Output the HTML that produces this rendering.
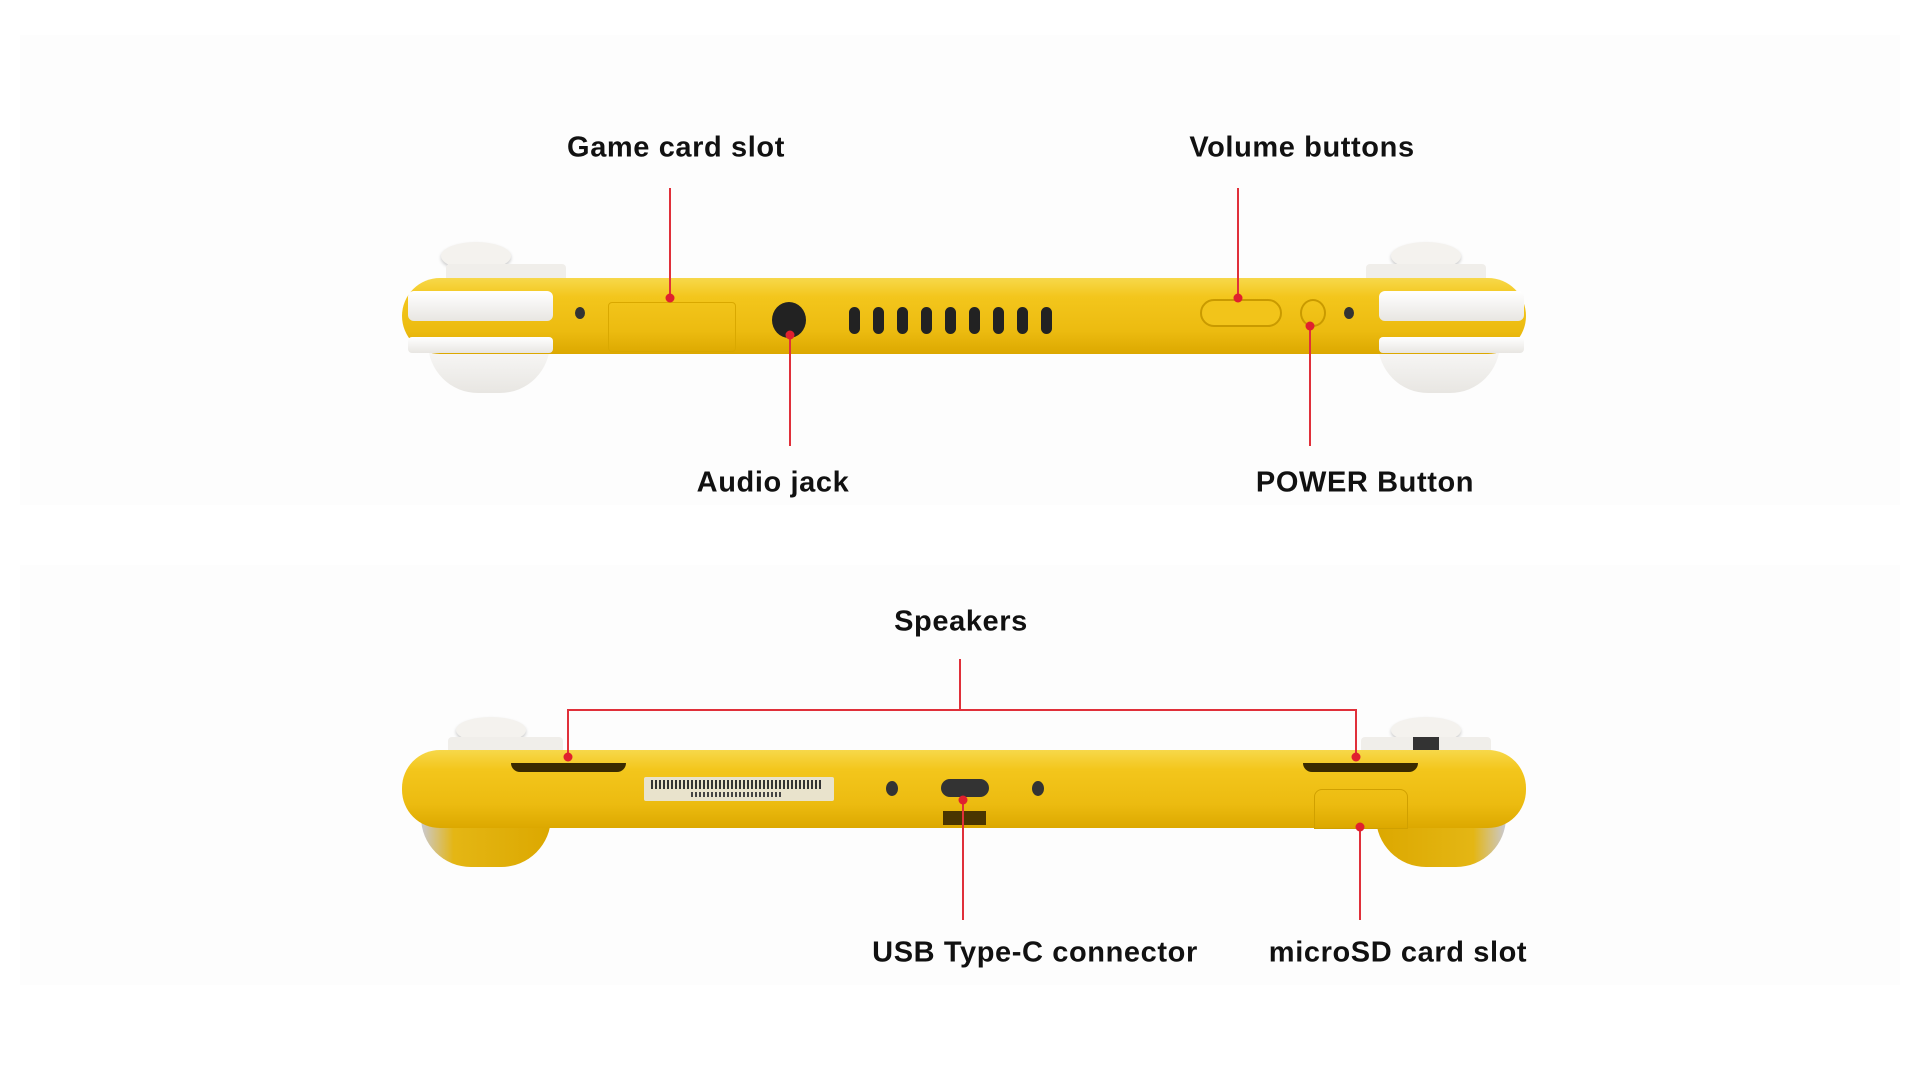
<!DOCTYPE html>
<html><head><meta charset="utf-8"><style>
*{margin:0;padding:0;box-sizing:border-box}
body{width:1920px;height:1080px;background:#fff;position:relative;overflow:hidden;font-family:"Liberation Sans",sans-serif}
#w{position:absolute;left:-4px;top:-1px;width:1920px;height:1080px}
.a{position:absolute}
.lbl{position:absolute;font-weight:bold;font-size:29px;color:#111;white-space:nowrap;transform:translate(-50%,-50%);letter-spacing:0.6px}
.v{position:absolute;width:2px;background:#e0303a}
.h{position:absolute;height:2px;background:#e0303a}
.dot{position:absolute;width:9px;height:9px;border-radius:50%;background:#e0202e;transform:translate(-50%,-50%)}
.body{position:absolute;border-radius:38px;background:linear-gradient(#f7d84a 0%,#f3c61c 25%,#ecbb10 70%,#dca800 100%)}
.white{position:absolute;background:linear-gradient(#fff,#e8e6e2);}
.slot{position:absolute;background:#222;border-radius:8px}
</style></head><body>
<div class="a" style="left:20px;top:35px;width:1880px;height:470px;background:#fdfdfd"></div>
<div class="a" style="left:20px;top:565px;width:1880px;height:420px;background:#fdfdfd"></div>
<div id="w">
<!-- TOP DEVICE -->
<div class="a" style="left:445px;top:243px;width:70px;height:28px;border-radius:50%;background:#f4f2ee;box-shadow:0 2px 3px #ccc"></div>
<div class="a" style="left:1395px;top:243px;width:70px;height:28px;border-radius:50%;background:#f4f2ee;box-shadow:0 2px 3px #ccc"></div>
<div class="a" style="left:1420px;top:265px;width:26px;height:20px;background:#333;border-radius:4px"></div>
<div class="a" style="left:450px;top:265px;width:120px;height:18px;background:#f0eeea;border-radius:4px"></div>
<div class="a" style="left:1370px;top:265px;width:120px;height:18px;background:#f0eeea;border-radius:4px"></div>
<div class="white" style="left:432px;top:330px;width:122px;height:64px;border-radius:0 0 50px 50px"></div>
<div class="white" style="left:1382px;top:330px;width:122px;height:64px;border-radius:0 0 50px 50px"></div>
<div class="body" style="left:406px;top:279px;width:1124px;height:76px"></div>
<div class="white" style="left:412px;top:292px;width:145px;height:30px;border-radius:6px"></div>
<div class="white" style="left:1383px;top:292px;width:145px;height:30px;border-radius:6px"></div>
<div class="white" style="left:412px;top:338px;width:145px;height:16px;border-radius:4px"></div>
<div class="white" style="left:1383px;top:338px;width:145px;height:16px;border-radius:4px"></div>
<div class="a" style="left:612px;top:303px;width:128px;height:50px;border:1px solid #d9a800;border-radius:4px"></div>
<div class="a" style="left:579px;top:308px;width:10px;height:12px;border-radius:50%;background:#333"></div>
<div class="a" style="left:1348px;top:308px;width:10px;height:12px;border-radius:50%;background:#333"></div>
<div class="a" style="left:776px;top:303px;width:34px;height:36px;border-radius:50%;background:#222"></div>
<div class="slot" style="left:853px;top:308px;width:11px;height:27px"></div>
<div class="slot" style="left:877px;top:308px;width:11px;height:27px"></div>
<div class="slot" style="left:901px;top:308px;width:11px;height:27px"></div>
<div class="slot" style="left:925px;top:308px;width:11px;height:27px"></div>
<div class="slot" style="left:949px;top:308px;width:11px;height:27px"></div>
<div class="slot" style="left:973px;top:308px;width:11px;height:27px"></div>
<div class="slot" style="left:997px;top:308px;width:11px;height:27px"></div>
<div class="slot" style="left:1021px;top:308px;width:11px;height:27px"></div>
<div class="slot" style="left:1045px;top:308px;width:11px;height:27px"></div>
<div class="a" style="left:1204px;top:300px;width:82px;height:28px;border:2px solid #c99a00;border-radius:14px;background:#f2c41a"></div>
<div class="a" style="left:1304px;top:300px;width:26px;height:28px;border:2px solid #c99a00;border-radius:50%"></div>

<!-- BOTTOM DEVICE -->
<div class="a" style="left:460px;top:718px;width:70px;height:26px;border-radius:50%;background:#f4f2ee;box-shadow:0 2px 3px #ccc"></div>
<div class="a" style="left:1395px;top:718px;width:70px;height:26px;border-radius:50%;background:#f4f2ee;box-shadow:0 2px 3px #ccc"></div>
<div class="a" style="left:452px;top:738px;width:115px;height:18px;background:#f0eeea;border-radius:4px"></div>
<div class="a" style="left:1365px;top:738px;width:130px;height:18px;background:#f0eeea;border-radius:4px"></div>
<div class="a" style="left:1417px;top:738px;width:26px;height:18px;background:#333"></div>
<div class="a" style="left:425px;top:800px;width:130px;height:68px;border-radius:0 0 50px 50px;background:linear-gradient(90deg,#c9c9d2,#e4b614 25%,#dca800)"></div>
<div class="a" style="left:1380px;top:800px;width:130px;height:68px;border-radius:0 0 50px 50px;background:linear-gradient(270deg,#c9c9d2,#e4b614 25%,#dca800)"></div>
<div class="body" style="left:406px;top:751px;width:1124px;height:78px"></div>
<div class="a" style="left:515px;top:764px;width:115px;height:9px;background:#3a2a00;border-radius:0 0 40px 40px"></div>
<div class="a" style="left:1307px;top:764px;width:115px;height:9px;background:#3a2a00;border-radius:0 0 40px 40px"></div>
<div class="a" style="left:648px;top:778px;width:190px;height:24px;background:#e9e3cc;border-radius:2px"></div>
<div class="a" style="left:655px;top:781px;width:170px;height:9px;background:repeating-linear-gradient(90deg,#333 0 2px,#e9e3cc 2px 4px)"></div>
<div class="a" style="left:695px;top:793px;width:90px;height:5px;background:repeating-linear-gradient(90deg,#444 0 2px,#e9e3cc 2px 4px)"></div>
<div class="a" style="left:890px;top:782px;width:12px;height:15px;border-radius:50%;background:#333"></div>
<div class="a" style="left:1036px;top:782px;width:12px;height:15px;border-radius:50%;background:#333"></div>
<div class="a" style="left:945px;top:780px;width:48px;height:18px;background:#333;border-radius:9px"></div>
<div class="a" style="left:947px;top:812px;width:43px;height:14px;background:#4a3500"></div>
<div class="a" style="left:1318px;top:790px;width:94px;height:40px;border:1px solid #d0a000;border-radius:8px 8px 0 0"></div>

<!-- CONNECTORS -->
<div class="v" style="left:673px;top:189px;height:110px"></div><div class="dot" style="left:674px;top:299px"></div>
<div class="v" style="left:1241px;top:189px;height:110px"></div><div class="dot" style="left:1242px;top:299px"></div>
<div class="v" style="left:793px;top:335px;height:112px"></div><div class="dot" style="left:794px;top:336px"></div>
<div class="v" style="left:1313px;top:326px;height:121px"></div><div class="dot" style="left:1314px;top:327px"></div>
<div class="v" style="left:963px;top:660px;height:52px"></div>
<div class="h" style="left:572px;top:710px;width:789px"></div>
<div class="v" style="left:571px;top:710px;height:48px"></div><div class="dot" style="left:572px;top:758px"></div>
<div class="v" style="left:1359px;top:710px;height:48px"></div><div class="dot" style="left:1360px;top:758px"></div>
<div class="v" style="left:966px;top:800px;height:121px"></div><div class="dot" style="left:967px;top:801px"></div>
<div class="v" style="left:1363px;top:827px;height:94px"></div><div class="dot" style="left:1364px;top:828px"></div>

<!-- LABELS -->
<div class="lbl" style="left:680px;top:149px">Game card slot</div>
<div class="lbl" style="left:1306px;top:149px">Volume buttons</div>
<div class="lbl" style="left:777px;top:484px">Audio jack</div>
<div class="lbl" style="left:1369px;top:484px">POWER Button</div>
<div class="lbl" style="left:965px;top:623px">Speakers</div>
<div class="lbl" style="left:1039px;top:954px">USB Type-C connector</div>
<div class="lbl" style="left:1402px;top:954px">microSD card slot</div>
</div>
</body></html>
